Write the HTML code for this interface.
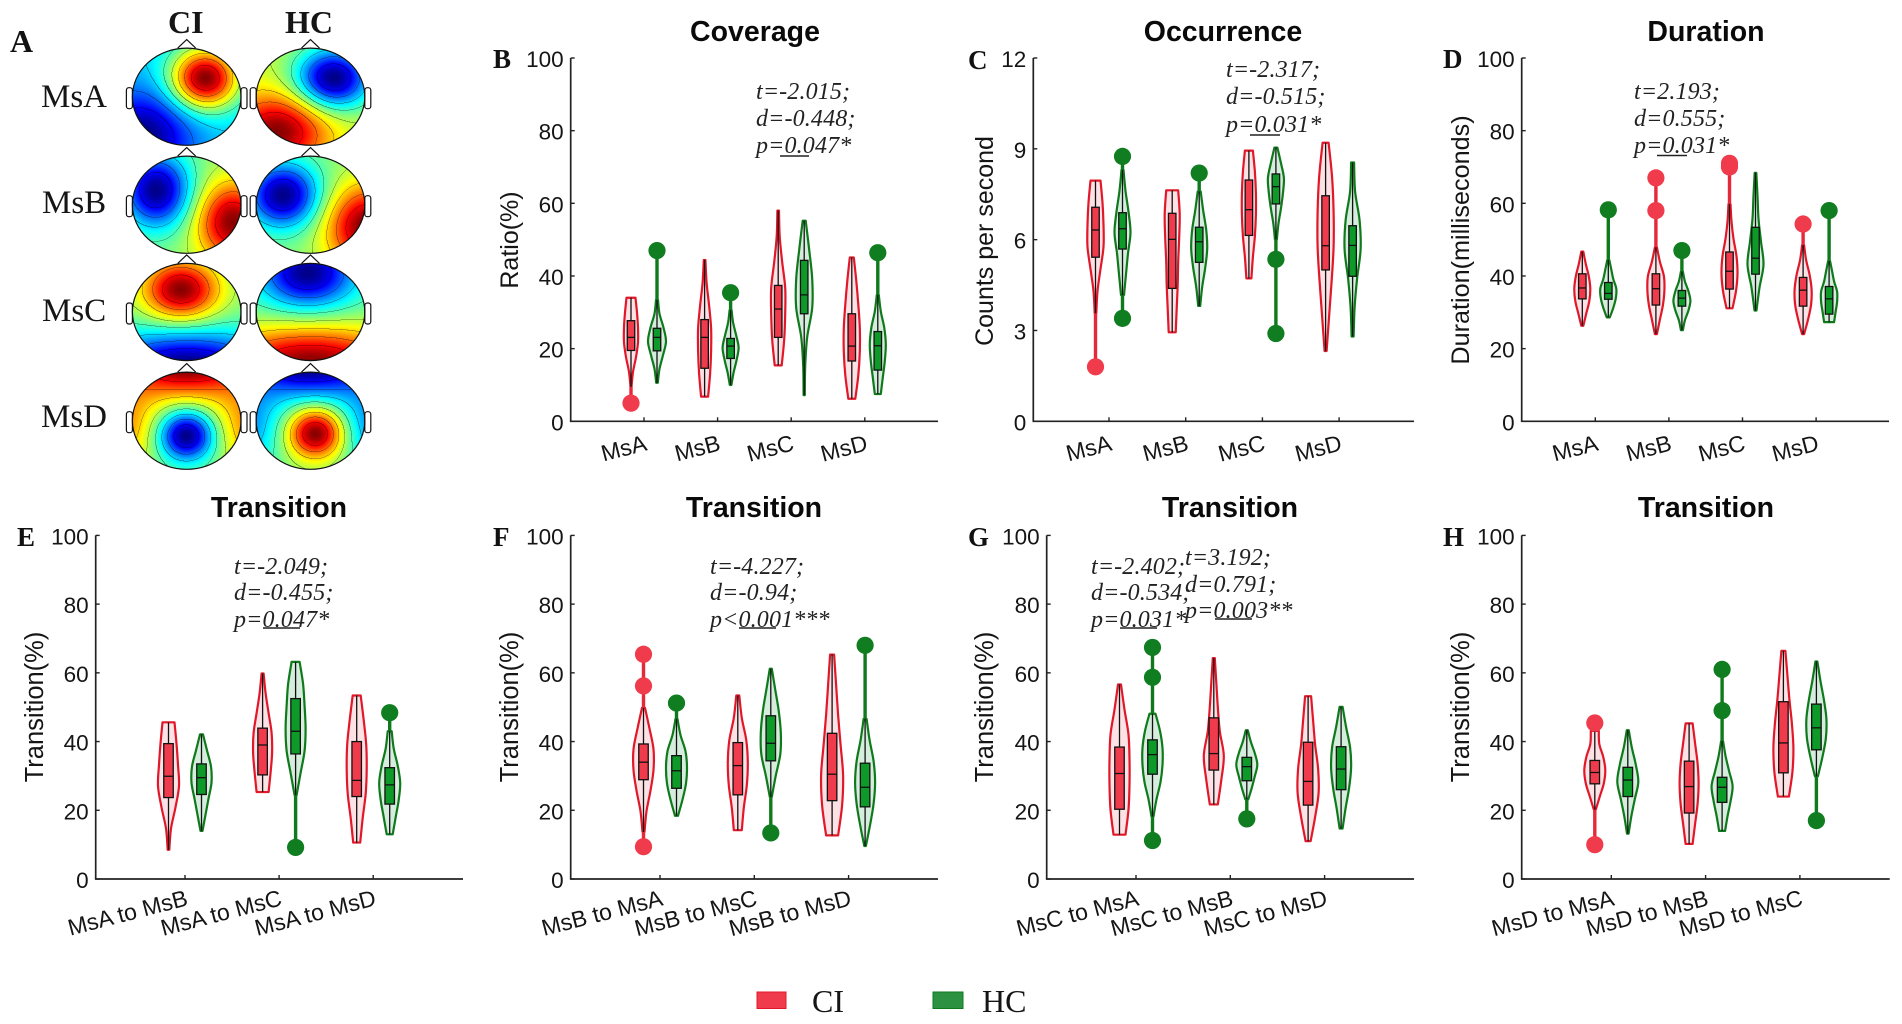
<!DOCTYPE html>
<html lang="en">
<head>
<meta charset="utf-8">
<title>Microstate topographies and violin plots</title>
<style>
html,body{margin:0;padding:0;background:#fff;width:1902px;height:1024px;overflow:hidden}
#stage{position:relative;width:1902px;height:1024px;background:#fff}
canvas{position:absolute}
svg{position:absolute;left:0;top:0}
.sans{font-family:"Liberation Sans",Arial,sans-serif;fill:#151515}
.serif{font-family:"Liberation Serif","Times New Roman",serif;fill:#151515}
.note{font-family:"Liberation Serif","Times New Roman",serif;font-style:italic;font-size:24px;letter-spacing:.15px;fill:#222}
.letter{font-family:"Liberation Serif","Times New Roman",serif;font-weight:bold;font-size:27px;fill:#111}
</style>
</head>
<body>
<div id="stage">
<svg id="plot" width="1902" height="1024" viewBox="0 0 1902 1024" xmlns="http://www.w3.org/2000/svg">
  <text class="letter" x="10" y="52" style="font-size:32px">A</text>
  <text class="serif" x="168" y="33" font-size="32" font-weight="bold">CI</text>
  <text class="serif" x="285" y="33" font-size="32" font-weight="bold">HC</text>
  <text class="serif" x="41" y="107" font-size="33">MsA</text>
  <text class="serif" x="42" y="213" font-size="33">MsB</text>
  <text class="serif" x="42" y="321" font-size="33">MsC</text>
  <text class="serif" x="41" y="427" font-size="33">MsD</text>

  <text class="letter" x="493" y="68">B</text>
  <text class="letter" x="968" y="69">C</text>
  <text class="letter" x="1443" y="68">D</text>
  <text class="letter" x="17" y="546">E</text>
  <text class="letter" x="493" y="546">F</text>
  <text class="letter" x="968" y="546">G</text>
  <text class="letter" x="1443" y="546">H</text>

  <g>
    <text class="note" x="756" y="99">t=-2.015;</text>
    <text class="note" x="756" y="126">d=-0.448;</text>
    <text class="note" x="756" y="153">p=0.047*</text>
    <line x1="780" x2="809" y1="156" y2="156" stroke="#222" stroke-width="1.5"/>
  </g>
  <g>
    <text class="note" x="1226" y="77">t=-2.317;</text>
    <text class="note" x="1226" y="104">d=-0.515;</text>
    <text class="note" x="1226" y="132">p=0.031*</text>
    <line x1="1250" x2="1280" y1="135" y2="135" stroke="#222" stroke-width="1.5"/>
  </g>
  <g>
    <text class="note" x="1634" y="99">t=2.193;</text>
    <text class="note" x="1634" y="126">d=0.555;</text>
    <text class="note" x="1634" y="153">p=0.031*</text>
    <line x1="1657" x2="1687" y1="155.5" y2="155.5" stroke="#222" stroke-width="1.5"/>
  </g>
  <g>
    <text class="note" x="234" y="574">t=-2.049;</text>
    <text class="note" x="234" y="600">d=-0.455;</text>
    <text class="note" x="234" y="627">p=0.047*</text>
    <line x1="263" x2="300" y1="628" y2="628" stroke="#222" stroke-width="1.5"/>
  </g>
  <g>
    <text class="note" x="710" y="574">t=-4.227;</text>
    <text class="note" x="710" y="600">d=-0.94;</text>
    <text class="note" x="710" y="627">p&lt;0.001***</text>
    <line x1="739" x2="776" y1="628" y2="628" stroke="#222" stroke-width="1.5"/>
  </g>
  <g>
    <text class="note" x="1091" y="574">t=-2.402;</text>
    <text class="note" x="1091" y="600">d=-0.534;</text>
    <text class="note" x="1091" y="627">p=0.031*</text>
    <line x1="1120" x2="1157" y1="628" y2="628" stroke="#222" stroke-width="1.5"/>
  </g>
  <g>
    <text class="note" x="1185" y="565">t=3.192;</text>
    <text class="note" x="1185" y="592">d=0.791;</text>
    <text class="note" x="1185" y="618">p=0.003**</text>
    <line x1="1215" x2="1252" y1="619" y2="619" stroke="#222" stroke-width="1.5"/>
  </g>

  <g>
    <g>
      <rect x="757" y="992" width="29" height="16.5" fill="#ef3b4b" stroke="#e0182a" stroke-width="1"/>
      <text class="serif" x="812" y="1012" font-size="32">CI</text>
    </g>
    <g>
      <rect x="933" y="992" width="30" height="16.5" fill="#2d9142" stroke="#0f7a1c" stroke-width="1"/>
      <text class="serif" x="982" y="1012" font-size="32">HC</text>
    </g>
  </g>
</svg>
</div>
<script>
/* ---------- chart values: rows are [whiskerLow, q1, median, q3, whiskerHigh] ---------- */
const percentTicks = [0, 20, 40, 60, 80, 100];
const countTicks = [0, 3, 6, 9, 12];
const stateCategories = ['MsA', 'MsB', 'MsC', 'MsD'];
const fromACategories = ['MsA to MsB', 'MsA to MsC', 'MsA to MsD'];
const fromBCategories = ['MsB to MsA', 'MsB to MsC', 'MsB to MsD'];
const fromCCategories = ['MsC to MsA', 'MsC to MsB', 'MsC to MsD'];
const fromDCategories = ['MsD to MsA', 'MsD to MsB', 'MsD to MsC'];

const coverageCiStats = [[9.5,19.5,23.1,27.7,34],[6.8,14.6,23.1,28,44.4],[15.4,23.1,30.9,37.4,58],[6.2,16.6,20.7,29.6,45.1]];
const coverageCiDensity = [[0.5,2,5,7,7,6,4.5],[3.5,5.5,6.5,6.5,4.5,2,0.8],[3.5,6,7,7,4,1.5,0.8],[3.5,6.5,8,8,6.5,4.5,2]];
const coverageCiOutliers = [[5],[],[],[]];
const coverageHcStats = [[10.6,19.4,23.1,25.6,33.4],[10,17.3,20.7,22.8,30.6],[7.2,29.6,34.8,44.3,55.2],[7.5,14.1,20.8,24.7,34.8]];
const coverageHcDensity = [[0.8,2.5,6,9,6.5,2.5,1],[0.8,3,6,8,5.5,2.5,1],[0.6,1,3,8,8,5,1.5],[3,5,7,8,6.5,3,1]];
const coverageHcOutliers = [[47],[35.4],[],[46.4]];

const occurrenceCiStats = [[3.57,5.42,6.32,7.07,7.95],[2.94,4.39,6.01,6.87,7.63],[4.72,6.14,6.99,7.97,8.94],[2.32,5,5.8,7.45,9.2]];
const occurrenceCiDensity = [[0.8,2,5,8,8,7,5],[3.5,4.5,5.5,6,7,7.5,6],[2.5,4,6,7,7,6,4],[1,3.5,6,8,8,6.5,3]];
const occurrenceCiOutliers = [[1.8],[],[],[]];
const occurrenceHcStats = [[4.17,5.69,6.36,6.89,8.3],[3.81,5.25,5.93,6.41,7.59],[6.01,7.18,7.75,8.17,9.04],[2.8,4.79,5.81,6.46,8.55]];
const occurrenceHcDensity = [[1.5,3.5,5.5,8,6,3,1],[1,3,6,8,7,4,1.5],[1,2.5,5,7,8,5,1.5],[1,2,4.5,8,7,2.5,1.5]];
const occurrenceHcOutliers = [[8.75,3.4],[8.2],[5.35,2.9],[]];

const durationCiStats = [[26.3,33.7,36.7,40.6,46.7],[24,32,36.5,40.6,47.9],[31.1,36.4,41.3,46.6,59.8],[24,31.7,36.1,39.6,48.5]];
const durationCiDensity = [[1,4,7,8,6.5,3.5,1],[1,4,7,8.5,8,4,1],[3,6.5,8,7,4,2,1],[1,5,8,8.5,6.5,3,1]];
const durationCiOutliers = [[],[58,67],[70,71],[54.3]];
const durationHcStats = [[28.6,33.6,35.2,38.2,44.4],[25.1,31.7,33.9,36,41.2],[30.5,40.5,44.9,53.4,68.4],[27.3,29.5,33.7,37.1,44.1]];
const durationHcDensity = [[1.5,5,7.5,8,5,3,1],[1,3,6.5,8.5,6.5,3,1],[1,4,8,5.5,3,2,0.8],[5,6.5,8,8,5,3,1]];
const durationHcOutliers = [[58.2],[47],[],[58]];

const fromACiStats = [[8.5,23.7,29.9,39.4,45.6],[25.3,30.3,39,43.9,59.8],[10.6,24,28.7,40,53.4]];
const fromACiDensity = [[0.8,2.5,7,10.5,9.5,8,6],[6,8,9.5,9,6,3,1],[3.5,6,9,10,9.5,7,4]];
const fromACiOutliers = [[],[],[]];
const fromAHcStats = [[14,24.6,29.5,33.5,42.1],[24.4,36.4,43,52.5,63.2],[13,21.8,27.4,32.4,43]];
const fromAHcDensity = [[1,4,7,10,9.5,5.5,1.5],[1,5,9,10,9,7.5,4],[3,6,9,10.5,8,4,2]];
const fromAHcOutliers = [[],[9.2],[48.4]];

const fromBCiStats = [[13.7,28.9,34,39.3,49.8],[14.2,24.5,33,39.7,53.4],[12.7,22.8,30.5,42.4,65.3]];
const fromBCiDensity = [[1,3,7,10,10,6,1.5],[4,6,9,10,8.5,4,1.5],[6,10,11,8.5,6,4,2]];
const fromBCiOutliers = [[56.2,65.4,9.4],[],[]];
const fromBHcStats = [[18.4,26.4,31.5,35.9,46.6],[23.9,34.4,39.5,47.5,61.2],[9.6,21,26.7,33.7,46.6]];
const fromBHcDensity = [[1.5,6,9.5,10.5,9,4,1],[1,5,9.5,10,8,4.5,1],[0.8,5,8.5,10,8.5,4.5,1.5]];
const fromBHcOutliers = [[51.2],[13.4],[68]];

const fromCCiStats = [[12.9,20.3,30.7,38.4,56.6],[21.7,31.7,36.5,46.9,64.3],[11,21.5,28.4,39.8,53.2]];
const fromCCiDensity = [[6,9,10,10,9,5,1.5],[4,7.5,10,6,4,2.5,1],[2.5,7,10.5,10,7,5,3]];
const fromCCiOutliers = [[],[],[]];
const fromCHcStats = [[18.2,30.5,36.2,40.5,48.1],[23.2,28.6,32.7,35.4,43.3],[14.7,26,32,38.5,50.1]];
const fromCHcDensity = [[1,4,8,10,10,7.5,3],[1.5,5,8,10.5,8,4,1],[1.5,4.5,8,10,9,5,1.5]];
const fromCHcOutliers = [[11.2,58.7,67.4],[17.5],[]];

const fromDCiStats = [[20.2,27.7,31,34.5,43.1],[10.2,19.2,26.9,34.3,45.3],[24,30.9,39.6,51.6,66.4]];
const fromDCiDensity = [[1,5,9,10.5,8.5,4.5,4],[3.5,6,8.5,9.5,8.5,6,3.5],[5.5,9,10,8.5,6,4,2]];
const fromDCiOutliers = [[10,45.4],[],[]];
const fromDHcStats = [[13.2,24,28.8,32.5,43.3],[14,22.3,26.7,29.6,40.1],[29.9,37.6,44,50.9,63.3]];
const fromDHcDensity = [[0.8,3.5,7,10.5,8,4,1],[3,5.5,8.5,10.5,7,3.5,1],[1.5,6,9.5,10,7.5,4,1]];
const fromDHcOutliers = [[],[49,61],[17]];

/* ---------- topographic map sources: [x, y, amplitude, spreadX, spreadY] ---------- */
const topoCiA = [[0.34,-0.38,1,0.62,0.62],[-0.8,0.8,-0.5,0.9,0.9]];
const topoHcA = [[0.42,-0.38,-1,0.68,0.62],[-0.6,0.7,0.75,0.9,0.75]];
const topoCiB = [[-0.55,-0.3,-1,0.62,0.75],[0.85,0.35,0.95,0.65,0.8]];
const topoHcB = [[-0.5,-0.2,-1,0.65,0.65],[1.05,0.45,1,0.75,0.85]];
const topoCiC = [[-0.1,-0.45,1,0.68,0.6],[0,1.15,-1.05,1.6,0.75]];
const topoHcC = [[-0.05,-0.8,-1,0.85,0.7],[0,1.05,1.1,1.8,0.75]];
const topoCiD = [[0,0.3,-1,0.5,0.5],[0,-1.25,1.1,1.3,0.75],[-1.25,0.1,0.5,0.7,0.9],[1.25,0.1,0.5,0.7,0.9]];
const topoHcD = [[0.1,0.25,1,0.5,0.5],[0,-1.25,-1.1,1.3,0.75],[-1.25,0.1,-0.5,0.7,0.9],[1.25,0.1,-0.5,0.7,0.9]];

const NS = 'http://www.w3.org/2000/svg';
const plot = document.getElementById('plot');
const stage = document.getElementById('stage');

function make(tag, attrs, parent, text) {
  const el = document.createElementNS(NS, tag);
  for (const k in attrs) el.setAttribute(k, attrs[k]);
  if (text !== undefined) el.textContent = text;
  parent.appendChild(el);
  return el;
}

/* ---------- colours ---------- */
const groupStyles = {
  ci: { line: '#e0182a', fill: 'rgba(236,60,80,0.15)', box: '#ef3b4b', dot: '#ef3b4b', stem: '#e8283a' },
  hc: { line: '#0f7a1c', fill: 'rgba(30,150,60,0.18)', box: '#0e9a28', dot: '#0f7d20', stem: '#0f7a1c' }
};

/* ---------- panels: layout + references to the arrays above ---------- */
const panelLayouts = [
  { key:'coverage', title:'Coverage', titleX:755, titleY:41, left:570.7, right:938, top:58, bottom:421.3, first:644, step:73.6, gap:13, boxW:7.5, yMax:100, ticks:percentTicks, yLabel:'Ratio(%)', yLabelX:518, yLabelY:240, yLabelSize:25, labelY:450, cats:stateCategories, ciS:coverageCiStats, ciD:coverageCiDensity, ciO:coverageCiOutliers, hcS:coverageHcStats, hcD:coverageHcDensity, hcO:coverageHcOutliers },
  { key:'occurrence', title:'Occurrence', titleX:1223, titleY:41, left:1033.3, right:1414, top:58, bottom:421.3, first:1109, step:76.7, gap:13.5, boxW:7.5, yMax:12, ticks:countTicks, yLabel:'Counts per second', yLabelX:993, yLabelY:241, yLabelSize:25, labelY:450, cats:stateCategories, ciS:occurrenceCiStats, ciD:occurrenceCiDensity, ciO:occurrenceCiOutliers, hcS:occurrenceHcStats, hcD:occurrenceHcDensity, hcO:occurrenceHcOutliers },
  { key:'duration', title:'Duration', titleX:1706, titleY:41, left:1521.7, right:1889, top:58, bottom:421.3, first:1595.3, step:73.6, gap:13, boxW:7.5, yMax:100, ticks:percentTicks, yLabel:'Duration(milliseconds)', yLabelX:1469, yLabelY:240, yLabelSize:25.2, labelY:450, cats:stateCategories, ciS:durationCiStats, ciD:durationCiDensity, ciO:durationCiOutliers, hcS:durationHcStats, hcD:durationHcDensity, hcO:durationHcOutliers },
  { key:'transition-from-a', title:'Transition', titleX:279, titleY:517, left:95.7, right:463, top:535.4, bottom:879, first:185, step:94.1, gap:16.5, boxW:9.5, yMax:100, ticks:percentTicks, yLabel:'Transition(%)', yLabelX:43, yLabelY:707, yLabelSize:25.5, labelY:905, cats:fromACategories, ciS:fromACiStats, ciD:fromACiDensity, ciO:fromACiOutliers, hcS:fromAHcStats, hcD:fromAHcDensity, hcO:fromAHcOutliers },
  { key:'transition-from-b', title:'Transition', titleX:754, titleY:517, left:570.7, right:938, top:535.4, bottom:879, first:660, step:94.3, gap:16.5, boxW:9.5, yMax:100, ticks:percentTicks, yLabel:'Transition(%)', yLabelX:518, yLabelY:707, yLabelSize:25.5, labelY:905, cats:fromBCategories, ciS:fromBCiStats, ciD:fromBCiDensity, ciO:fromBCiOutliers, hcS:fromBHcStats, hcD:fromBHcDensity, hcO:fromBHcOutliers },
  { key:'transition-from-c', title:'Transition', titleX:1230, titleY:517, left:1046.7, right:1414, top:535.4, bottom:879, first:1136, step:94.3, gap:16.5, boxW:9.5, yMax:100, ticks:percentTicks, yLabel:'Transition(%)', yLabelX:993, yLabelY:707, yLabelSize:25.5, labelY:905, cats:fromCCategories, ciS:fromCCiStats, ciD:fromCCiDensity, ciO:fromCCiOutliers, hcS:fromCHcStats, hcD:fromCHcDensity, hcO:fromCHcOutliers },
  { key:'transition-from-d', title:'Transition', titleX:1706, titleY:517, left:1521.7, right:1889.7, top:535.4, bottom:879, first:1611.3, step:94.3, gap:16.5, boxW:9.5, yMax:100, ticks:percentTicks, yLabel:'Transition(%)', yLabelX:1469, yLabelY:707, yLabelSize:25.5, labelY:905, cats:fromDCategories, ciS:fromDCiStats, ciD:fromDCiDensity, ciO:fromDCiOutliers, hcS:fromDHcStats, hcD:fromDHcDensity, hcO:fromDHcOutliers }
];

/* Catmull-Rom smoothing through a list of [x,y] points */
function smoothSegment(pts) {
  let d = '';
  for (let i = 0; i < pts.length - 1; i++) {
    const p0 = pts[Math.max(i - 1, 0)], p1 = pts[i], p2 = pts[i + 1], p3 = pts[Math.min(i + 2, pts.length - 1)];
    const c1x = p1[0] + (p2[0] - p0[0]) / 6, c1y = p1[1] + (p2[1] - p0[1]) / 6;
    const c2x = p2[0] - (p3[0] - p1[0]) / 6, c2y = p2[1] - (p3[1] - p1[1]) / 6;
    d += 'C' + c1x.toFixed(2) + ' ' + c1y.toFixed(2) + ' ' + c2x.toFixed(2) + ' ' + c2y.toFixed(2) + ' ' + p2[0].toFixed(2) + ' ' + p2[1].toFixed(2);
  }
  return d;
}

function violinPath(cx, low, high, density, yScale) {
  const n = density.length - 1;
  const right = density.map((d, i) => [cx + d, yScale(low + (high - low) * i / n)]);
  const left = density.map((d, i) => [cx - d, yScale(low + (high - low) * i / n)]).reverse();
  return 'M' + right[0][0].toFixed(2) + ' ' + right[0][1].toFixed(2) + smoothSegment(right) +
         'L' + left[0][0].toFixed(2) + ' ' + left[0][1].toFixed(2) + smoothSegment(left) + 'Z';
}

function drawViolin(parent, cx, stats, density, outliers, style, boxW, yScale, groupName) {
  const [wLo, q1, med, q3, wHi] = stats;
  const g = make('g', {}, parent);
  
  

  const body = make('path', { d: violinPath(cx, wLo, wHi, density, yScale), fill: style.fill, stroke: style.line, 'stroke-width': 2.2, 'stroke-linejoin': 'round' }, g);
  
  

  const above = outliers.filter(v => v > wHi);
  const below = outliers.filter(v => v < wLo);
  if (above.length) {
    const stemUp = make('line', { x1: cx, x2: cx, y1: yScale(wHi), y2: yScale(Math.max.apply(null, above)), stroke: style.stem, 'stroke-width': 3.4 }, g);
    
    
  }
  if (below.length) {
    const stemDown = make('line', { x1: cx, x2: cx, y1: yScale(wLo), y2: yScale(Math.min.apply(null, below)), stroke: style.stem, 'stroke-width': 3.4 }, g);
    
    
  }

  const whisker = make('line', { x1: cx, x2: cx, y1: yScale(wLo), y2: yScale(wHi), stroke: '#111', 'stroke-width': 1.3 }, g);
  
  

  const box = make('rect', { x: cx - boxW / 2, y: yScale(q3), width: boxW, height: yScale(q1) - yScale(q3), fill: style.box, stroke: '#111', 'stroke-width': 1.3 }, g);
  
  

  const median = make('line', { x1: cx - boxW / 2, x2: cx + boxW / 2, y1: yScale(med), y2: yScale(med), stroke: '#111', 'stroke-width': 1.3 }, g);
  
  

  outliers.forEach(v => {
    const dot = make('circle', { cx: cx, cy: yScale(v), r: 8.6, fill: style.dot }, g);
    
    
  });
}

panelLayouts.forEach(p => {
  const yScale = v => p.bottom - (v / p.yMax) * (p.bottom - p.top);
  const xScale = i => p.first + i * p.step;

  const g = make('g', {}, plot);
  
  

  const title = make('text', { class: 'sans', x: p.titleX, y: p.titleY, 'text-anchor': 'middle', 'font-size': 28.5, 'font-weight': 'bold', style: 'fill:#0a0a0a' }, g, p.title);
  
  

  const yLabel = make('text', { class: 'sans', 'text-anchor': 'middle', 'font-size': p.yLabelSize, transform: 'translate(' + p.yLabelX + ' ' + p.yLabelY + ') rotate(-90)' }, g, p.yLabel);
  
  

  const yAxis = make('line', { x1: p.left, x2: p.left, y1: p.top, y2: p.bottom, stroke: '#222', 'stroke-width': 1.7 }, g);
  
  

  const xAxis = make('line', { x1: p.left - 0.8, x2: p.right, y1: p.bottom, y2: p.bottom, stroke: '#222', 'stroke-width': 1.7 }, g);
  
  

  p.ticks.forEach(t => {
    const mark = make('line', { x1: p.left, x2: p.left + 4, y1: yScale(t), y2: yScale(t), stroke: '#222', 'stroke-width': 1.4 }, g);
    
    
    const label = make('text', { class: 'sans', x: p.left - 7, y: yScale(t) + 9, 'text-anchor': 'end', 'font-size': 22.5 }, g, String(t));
    
    
  });

  p.cats.forEach((c, i) => {
    const cx = xScale(i);
    const mark = make('line', { x1: cx, x2: cx, y1: p.bottom, y2: p.bottom - 4, stroke: '#222', 'stroke-width': 1.4 }, g);
    
    
    const label = make('text', { class: 'sans', 'text-anchor': 'end', 'font-size': 23, transform: 'translate(' + (cx + 4) + ' ' + p.labelY + ') rotate(-14.5)' }, g, c);
    
    

    drawViolin(g, cx - p.gap, p.ciS[i], p.ciD[i], p.ciO[i], groupStyles.ci, p.boxW, yScale, 'violin-ci-' + c.toLowerCase().replace(/ /g, '-'));
    drawViolin(g, cx + p.gap, p.hcS[i], p.hcD[i], p.hcO[i], groupStyles.hc, p.boxW, yScale, 'violin-hc-' + c.toLowerCase().replace(/ /g, '-'));
  });
});

/* ---------- topographic head maps ---------- */
const topoColumns = [{ id: 'ci', cx: 186.7 }, { id: 'hc', cx: 310.5 }];
const topoRows = [{ id: 'msa', cy: 96.7 }, { id: 'msb', cy: 204.7 }, { id: 'msc', cy: 312 }, { id: 'msd', cy: 420.7 }];
const topoSources = { 'ci-msa': topoCiA, 'hc-msa': topoHcA, 'ci-msb': topoCiB, 'hc-msb': topoHcB, 'ci-msc': topoCiC, 'hc-msc': topoHcC, 'ci-msd': topoCiD, 'hc-msd': topoHcD };
const HEAD_RX = 54.3, HEAD_RY = 48.6, SS = 2, CONTOUR_LEVELS = 9;

function clamp01(v) { return Math.max(0, Math.min(1, v)); }
function jet(t) {
  return [clamp01(1.5 - Math.abs(4 * t - 3)) * 255, clamp01(1.5 - Math.abs(4 * t - 2)) * 255, clamp01(1.5 - Math.abs(4 * t - 1)) * 255];
}

function drawTopo(col, row) {
  const key = col.id + '-' + row.id;
  const sources = topoSources[key];
  const w = Math.ceil(HEAD_RX * 2 + 4), h = Math.ceil(HEAD_RY * 2 + 4);
  const cv = document.createElement('canvas');
  
  
  cv.width = w * SS;
  cv.height = h * SS;
  cv.style.width = w + 'px';
  cv.style.height = h + 'px';
  cv.style.left = (col.cx - w / 2) + 'px';
  cv.style.top = (row.cy - h / 2) + 'px';
  stage.insertBefore(cv, plot);
  const ctx = cv.getContext('2d');
  const img = ctx.createImageData(cv.width, cv.height);
  const W = cv.width, H = cv.height;
  const field = new Float32Array(W * H);
  let mn = Infinity, mx = -Infinity;
  for (let j = 0; j < H; j++) {
    for (let i = 0; i < W; i++) {
      const nx = ((i + 0.5) / SS - w / 2) / HEAD_RX, ny = ((j + 0.5) / SS - h / 2) / HEAD_RY;
      let f = 0;
      sources.forEach(s => {
        const dx = (nx - s[0]) / s[3], dy = (ny - s[1]) / s[4];
        f += s[2] * Math.exp(-(dx * dx + dy * dy));
      });
      field[j * W + i] = f;
      if (nx * nx + ny * ny <= 1) { if (f < mn) mn = f; if (f > mx) mx = f; }
    }
  }
  const level = idx => Math.floor(clamp01((field[idx] - mn) / (mx - mn)) * CONTOUR_LEVELS);
  for (let j = 0; j < H; j++) {
    for (let i = 0; i < W; i++) {
      const nx = ((i + 0.5) / SS - w / 2) / HEAD_RX, ny = ((j + 0.5) / SS - h / 2) / HEAD_RY;
      const o = (j * W + i) * 4;
      if (nx * nx + ny * ny > 1) { img.data[o + 3] = 0; continue; }
      const idx = j * W + i;
      const c = jet(clamp01(clamp01((field[idx] - mn) / (mx - mn)) * 0.98 + 0.01));
      const q = level(idx);
      const edge = (i + 1 < W && level(idx + 1) !== q) || (j + 1 < H && level(idx + W) !== q);
      const k = edge ? 0.5 : 1;
      img.data[o] = c[0] * k;
      img.data[o + 1] = c[1] * k;
      img.data[o + 2] = c[2] * k;
      img.data[o + 3] = 255;
    }
  }
  ctx.putImageData(img, 0, 0);

  const g = make('g', {}, plot);
  
  
  const ink = { fill: 'none', stroke: '#111', 'stroke-width': 1.2 };
  make('ellipse', Object.assign({ cx: col.cx, cy: row.cy, rx: HEAD_RX, ry: HEAD_RY }, ink), g);
  make('path', Object.assign({ d: 'M' + (col.cx - 9) + ' ' + (row.cy - HEAD_RY) + 'L' + col.cx + ' ' + (row.cy - HEAD_RY - 8.5) + 'L' + (col.cx + 9) + ' ' + (row.cy - HEAD_RY) }, ink), g);
  make('rect', Object.assign({ x: col.cx - HEAD_RX - 6, y: row.cy - 9, width: 6, height: 21, rx: 2.5 }, ink), g);
  make('rect', Object.assign({ x: col.cx + HEAD_RX, y: row.cy - 9, width: 6, height: 21, rx: 2.5 }, ink), g);
}
topoColumns.forEach(col => topoRows.forEach(row => drawTopo(col, row)));
</script>
</body>
</html>
